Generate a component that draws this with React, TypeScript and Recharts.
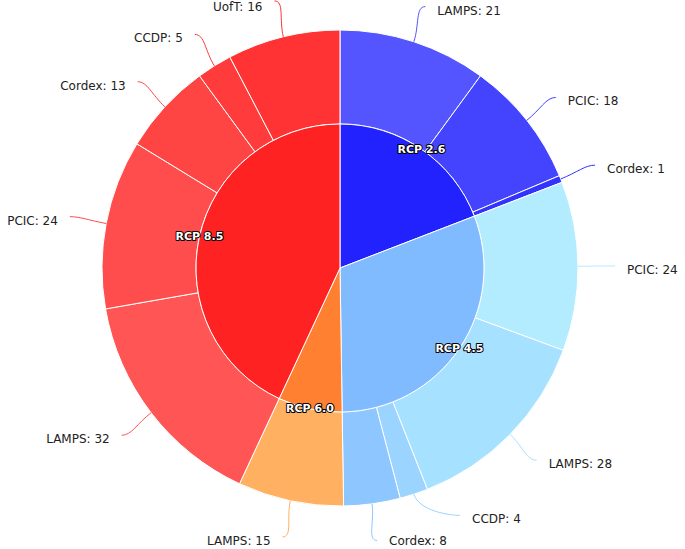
import { PieChart, Pie, Cell } from "recharts";

const scenarios = ["RCP 2.6", "RCP 4.5", "RCP 6.0", "RCP 8.5"];
const scenarioColors = ["#2222ff", "#80bbff", "#ff8030", "#ff2222"];

const models = [
  ["LAMPS", "PCIC", "Cordex"],
  ["PCIC", "LAMPS", "CCDP", "Cordex"],
  ["LAMPS"],
  ["LAMPS", "PCIC", "Cordex", "CCDP", "UofT"],
];
const modelValues = [
  [21, 18, 1],
  [24, 28, 4, 8],
  [15],
  [32, 24, 13, 5, 16],
];
const modelColors = [
  ["#5555ff", "#4444ff", "#3333ff"],
  ["#b3ecff", "#a6e2ff", "#9bd4ff", "#8ec6ff"],
  ["#ffb060"],
  ["#ff5555", "#ff4c4c", "#ff4444", "#ff3b3b", "#ff3333"],
];

const innerData = scenarios.map((name, i) => ({
  name,
  value: modelValues[i].reduce((a, b) => a + b, 0),
  color: scenarioColors[i],
}));

const outerData = models.flatMap((list, i) =>
  list.map((name, j) => ({
    name,
    value: modelValues[i][j],
    color: modelColors[i][j],
  }))
);

const RAD = Math.PI / 180;
const FONT = "DejaVu Sans, sans-serif";
const LABEL_R = 275;
// vertical nudges to keep crowded labels apart (outer slice index -> px)
const labelNudge: Record<number, number> = { 5: -14 };

function polar(cx: number, cy: number, r: number, angle: number) {
  return { x: cx + r * Math.cos(-angle * RAD), y: cy + r * Math.sin(-angle * RAD) };
}

function InnerLabel(props: any) {
  const { cx, cy, midAngle, outerRadius, name } = props;
  const p = polar(cx, cy, outerRadius, midAngle);
  return (
    <text
      x={p.x}
      y={p.y}
      textAnchor="middle"
      dominantBaseline="central"
      fill="#fff"
      stroke="#000"
      strokeWidth={2}
      strokeLinejoin="round"
      paintOrder="stroke"
      fontFamily={FONT}
      fontSize={11}
      fontWeight="bold"
    >
      {name}
    </text>
  );
}

function OuterLabel(props: any) {
  const { cx, cy, midAngle, outerRadius, name, value, payload, index } = props;
  const edge = polar(cx, cy, outerRadius, midAngle);
  const bend = polar(cx, cy, outerRadius + 18, midAngle);
  const ideal = polar(cx, cy, LABEL_R, midAngle);
  const right = ideal.x >= cx;
  const dir = right ? 1 : -1;
  const ly = ideal.y + (labelNudge[index] || 0);
  const dy = Math.min(Math.abs(ly - cy), LABEL_R);
  const lx = cx + dir * Math.sqrt(LABEL_R * LABEL_R - dy * dy);
  const ty = Math.max(7, Math.min(541, ly + 4));
  const path = `M${edge.x},${edge.y} C${bend.x},${bend.y} ${lx - dir * 10},${ly} ${lx},${ly}`;
  return (
    <g>
      <path d={path} fill="none" stroke={payload.color} strokeWidth={1} />
      <text
        x={lx + dir * 12}
        y={ty}
        textAnchor={right ? "start" : "end"}
        dominantBaseline="central"
        fill="#222"
        fontFamily={FONT}
        fontSize={12}
      >
        {`${name}: ${value}`}
      </text>
    </g>
  );
}

export default function App() {
  return (
    <div style={{ position: "absolute", left: 0, top: 0, width: 685, height: 549, background: "#fff" }}>
      <PieChart width={685} height={549} margin={{ top: 0, right: 0, bottom: 0, left: 0 }}>
        <Pie
          data={outerData}
          dataKey="value"
          nameKey="name"
          cx={340}
          cy={268}
          innerRadius={144}
          outerRadius={238}
          startAngle={90}
          endAngle={-270}
          stroke="#fff"
          strokeWidth={1}
          label={OuterLabel}
          labelLine={false}
          isAnimationActive={false}
        >
          {outerData.map((d, i) => (
            <Cell key={`o-${i}`} fill={d.color} />
          ))}
        </Pie>
        <Pie
          data={innerData}
          dataKey="value"
          nameKey="name"
          cx={340}
          cy={268}
          outerRadius={144}
          startAngle={90}
          endAngle={-270}
          stroke="#fff"
          strokeWidth={1}
          label={InnerLabel}
          labelLine={false}
          isAnimationActive={false}
        >
          {innerData.map((d, i) => (
            <Cell key={`i-${i}`} fill={d.color} />
          ))}
        </Pie>
      </PieChart>
    </div>
  );
}
